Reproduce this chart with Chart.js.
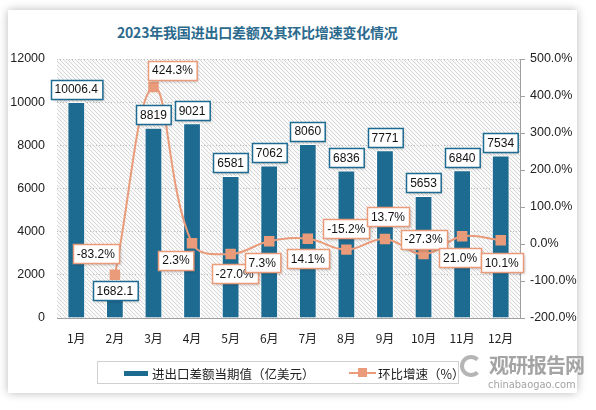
<!DOCTYPE html>
<html>
<head>
<meta charset="utf-8">
<script src="https://cdn.jsdelivr.net/npm/chart.js@4.4.0/dist/chart.umd.min.js"></script>
<style>
  html, body { margin: 0; padding: 0; background: #fff; }
  body { width: 596px; height: 410px; position: relative; overflow: hidden; font-family: "Noto Sans CJK SC", "Noto Sans", sans-serif; }
  .card { position: absolute; left: 8px; top: 10px; width: 569px; height: 383px; background: #fff; box-shadow: 0 0 9px rgba(0,0,0,0.28); }
  .title { position: absolute; left: 117px; top: 22px; font-size: 14px; font-weight: bold; color: #2b6a8d; white-space: nowrap; letter-spacing: -0.2px; }
  #wrap { position: absolute; left: 0; top: 0; width: 596px; height: 410px; }
  .legend { position: absolute; left: 97px; top: 361px; width: 362px; height: 23px; border: 1px solid #d0d0d0; box-sizing: border-box; font-size: 12.5px; color: #222; }
  .legend .item { position: absolute; top: 2px; white-space: nowrap; }
  .sw-bar { position: absolute; top: 9px; width: 24px; height: 5px; background: #1e6b92; }
  .sw-line { position: absolute; top: 10px; width: 27px; height: 2px; background: #e99b7a; }
  .sw-line::after { content: ""; position: absolute; left: 9px; top: -4px; width: 9px; height: 9px; background: #e99b7a; }
  .wm { position: absolute; left: 460px; top: 350px; color: #a4a4a4; }
  .wm .logo { position: absolute; left: 0; top: 5px; width: 22px; height: 22px; border-radius: 50%; border: 4px solid #b5b5b5; border-right-color: transparent; box-sizing: border-box; }
  .wm .cn { position: absolute; left: 29px; top: 0; font-size: 20px; font-weight: bold; white-space: nowrap; letter-spacing: -1px; }
  .wm .en { position: absolute; left: 28px; top: 28px; font-size: 11px; white-space: nowrap; font-family: "DejaVu Sans Condensed", "DejaVu Sans", sans-serif; }
</style>
</head>
<body>
<div class="card"></div>
<div class="title">2023年我国进出口差额及其环比增速变化情况</div>
<div id="wrap"><canvas id="chart" width="596" height="410"></canvas></div>
<div class="legend">
  <span class="sw-bar" style="left:26px"></span>
  <span class="item" style="left:54px">进出口差额当期值（亿美元）</span>
  <span class="sw-line" style="left:251px"></span>
  <span class="item" style="left:280px">环比增速（%）</span>
</div>
<div class="wm">
  <div class="logo"></div>
  <div class="cn">观研报告网</div>
  <div class="en">chinabaogao.com</div>
</div>
<script>
const months = ['1月', '2月', '3月', '4月', '5月', '6月', '7月', '8月', '9月', '10月', '11月', '12月'];
const balance = [10006.4, 1682.1, 8819, 9021, 6581, 7062, 8060, 6836, 7771, 5653, 6840, 7534];
const balanceLabels = ['10006.4', '1682.1', '8819', '9021', '6581', '7062', '8060', '6836', '7771', '5653', '6840', '7534'];
const growth = [null, -83.2, 424.3, 2.3, -27.0, 7.3, 14.1, -15.2, 13.7, -27.3, 21.0, 10.1];

// label box offsets (px) from the mark
const barLabelShift = [0, 22, 0, 0, 0, 0, 0, 0, 0, 0, 0, 0];
const lineLabelShift = [null, [-19, -21], [19, -17], [-16, 17], [4, 20], [-7, 21], [0, 20], [0, -21], [3, -22], [0, -15], [-2, 21], [1, 22]];

const BAR = '#1e6b92';
const LINE = '#e99b7a';

function hatch() {
  const c = document.createElement('canvas');
  c.width = 4; c.height = 4;
  const g = c.getContext('2d');
  g.fillStyle = '#fafafa';
  g.fillRect(0, 0, 4, 4);
  g.strokeStyle = '#d6d6d6';
  g.lineWidth = 1;
  g.beginPath();
  g.moveTo(-1, -1); g.lineTo(5, 5);
  g.moveTo(-1, 3); g.lineTo(1, 5);
  g.moveTo(3, -1); g.lineTo(5, 1);
  g.stroke();
  return c;
}

const bgPlugin = {
  id: 'bg',
  beforeDraw(chart) {
    const { ctx, chartArea: a } = chart;
    ctx.save();
    ctx.fillStyle = ctx.createPattern(hatch(), 'repeat');
    ctx.fillRect(a.left, a.top, a.right - a.left, a.bottom - a.top);
    ctx.restore();
  }
};

function box(ctx, text, cx, cy, color) {
  ctx.font = '12px "Liberation Sans", Arial, sans-serif';
  const w = ctx.measureText(text).width + 8;
  const h = 19;
  const x = Math.round(cx - w / 2) + 0.5, y = Math.round(cy - h / 2) + 0.5;
  ctx.save();
  ctx.shadowColor = 'rgba(0,0,0,0.3)';
  ctx.shadowBlur = 3;
  ctx.shadowOffsetX = 1;
  ctx.shadowOffsetY = 1;
  ctx.fillStyle = '#fff';
  ctx.fillRect(x, y, w, h);
  ctx.restore();
  ctx.lineWidth = 1.5;
  ctx.strokeStyle = color;
  ctx.strokeRect(x, y, w, h);
  ctx.fillStyle = '#111';
  ctx.textAlign = 'center';
  ctx.textBaseline = 'middle';
  ctx.fillText(text, cx, cy + 1);
}

const labelPlugin = {
  id: 'labels',
  afterDatasetsDraw(chart) {
    const ctx = chart.ctx;
    ctx.save();
    chart.getDatasetMeta(0).data.forEach((bar, i) => {
      const cy = bar.y - 13 + barLabelShift[i];
      box(ctx, balanceLabels[i], bar.x, cy, BAR);
    });
    chart.getDatasetMeta(1).data.forEach((pt, i) => {
      if (growth[i] === null) return;
      const s = lineLabelShift[i];
      box(ctx, growth[i].toFixed(1) + '%', pt.x + s[0], pt.y + s[1], LINE);
    });
    ctx.restore();
  }
};

new Chart(document.getElementById('chart'), {
  data: {
    labels: months,
    datasets: [
      {
        type: 'bar',
        label: '进出口差额当期值（亿美元）',
        data: balance,
        backgroundColor: BAR,
        borderColor: '#ffffff',
        borderWidth: 1,
        barPercentage: 0.46,
        categoryPercentage: 1,
        yAxisID: 'y',
        order: 2
      },
      {
        type: 'line',
        label: '环比增速（%）',
        data: growth,
        borderColor: LINE,
        backgroundColor: LINE,
        borderWidth: 2,
        tension: 0.4,
        pointStyle: 'rect',
        pointRadius: 6,
        pointHoverRadius: 6,
        yAxisID: 'y1',
        order: 1
      }
    ]
  },
  options: {
    responsive: false,
    animation: false,
    layout: { padding: { top: 59, bottom: 62, left: 0, right: 0 } },
    plugins: { legend: { display: false }, title: { display: false }, tooltip: { enabled: false } },
    scales: {
      x: {
        grid: { display: false },
        border: { display: true, color: '#a0a0a0', width: 1 },
        ticks: { color: '#222', font: { size: 12, family: '"Noto Sans CJK SC", sans-serif' }, padding: 5 },
        afterFit(scale) { scale.height = 30; }
      },
      y: {
        position: 'left',
        min: 0, max: 12000,
        ticks: { stepSize: 2000, color: '#222', font: { size: 12.5, family: '"Liberation Sans", Arial, sans-serif' }, padding: 12, callback: v => String(v) },
        grid: { color: '#bdbdbd', drawTicks: false },
        border: { display: false, dash: [1, 2] },
        afterFit(scale) { scale.width = 57; }
      },
      y1: {
        position: 'right',
        min: -200, max: 500,
        ticks: { stepSize: 100, color: '#222', font: { size: 12.5, family: '"Liberation Sans", Arial, sans-serif' }, padding: 5, callback: v => v.toFixed(1) + '%' },
        grid: { drawOnChartArea: false, color: '#a0a0a0', tickLength: 5 },
        border: { display: true, color: '#a0a0a0' },
        afterFit(scale) { scale.width = 76; }
      }
    }
  },
  plugins: [bgPlugin, labelPlugin]
});
</script>
</body>
</html>
